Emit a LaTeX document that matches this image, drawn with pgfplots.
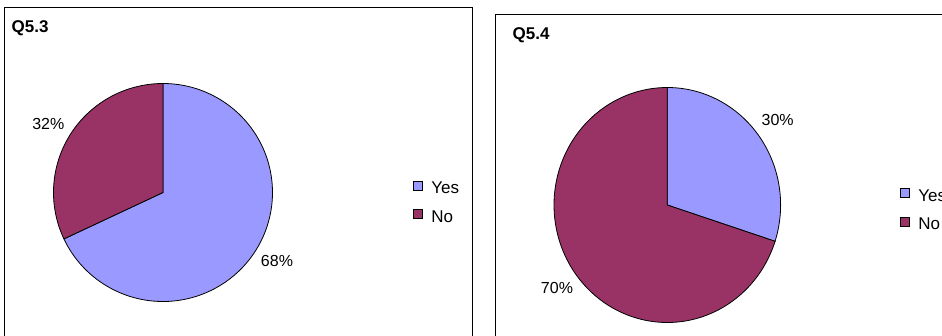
\documentclass[border=0pt]{standalone}
\usepackage{pgfplots}
\pgfplotsset{compat=1.18}
\usepackage{fontspec}
\setmainfont{Liberation Sans}
\definecolor{yescol}{HTML}{9999FF}
\definecolor{nocol}{HTML}{993366}

% data (percent)
\def\leftYes{68}\def\leftNo{32}
\def\rightYes{30}\def\rightNo{70}

\pgfplotsset{
  panel/.style={
    scale only axis, axis lines=box, xtick=\empty, ytick=\empty,
    y dir=reverse, axis line style={line width=1pt, black},
    legend image code/.code={\draw[##1,line width=0.7pt] (0pt,-0.5pt) rectangle (9pt,8.5pt);},
    legend style={draw=none, fill=none, inner sep=0pt, anchor=north west,
      font=\fontsize{17}{20}\selectfont,
      nodes={inner sep=0pt, text height=12pt, text depth=3pt},
      row sep=12.5pt,
      /tikz/every odd column/.style={column sep=8.5pt}},
    legend cell align=left,
  },
  wedge/.style={draw=black, line width=0.8pt, samples=160, variable=\t},
}

\begin{document}
\begin{tikzpicture}
\path[use as bounding box] (0pt,0pt) rectangle (942pt,335pt);
\clip (0pt,0pt) rectangle (942pt,335pt);
\pgfmathsetmacro{\La}{90-3.6*\leftYes}
\pgfmathsetmacro{\Ra}{90-3.6*\rightYes}

% ---- left panel: Q5.3
\begin{axis}[panel, anchor=north west, at={(5pt,328pt)},
  width=467pt, height=338pt, xmin=5, xmax=472, ymin=7, ymax=345,
  legend style={at={(axis cs:413,180.3)}}]
\addplot[wedge, fill=yescol, domain=\La:90] ({163+109.5*cos(\t)},{192.5-109*sin(\t)}) -- (axis cs:163,192.5) -- cycle;
\addlegendentry{Yes}
\addplot[wedge, fill=nocol, domain=-270:\La] ({163+109.5*cos(\t)},{192.5-109*sin(\t)}) -- (axis cs:163,192.5) -- cycle;
\addlegendentry{No}
\node[anchor=base west, font=\fontsize{17}{20}\selectfont\bfseries, inner sep=0pt] at (axis cs:11.5,32.5) {Q5.3};
\node[anchor=base, font=\fontsize{16}{19}\selectfont, inner sep=0pt] at (axis cs:277,266.7) {68\%};
\node[anchor=base, font=\fontsize{16}{19}\selectfont, inner sep=0pt] at (axis cs:48.3,129) {32\%};
\end{axis}

% ---- right panel: Q5.4
\begin{axis}[panel, anchor=north west, at={(495pt,321pt)},
  width=465pt, height=331pt, xmin=495, xmax=960, ymin=14, ymax=345,
  legend style={at={(axis cs:900,187.5)}}]
\addplot[wedge, fill=yescol, domain=\Ra:90] ({667.3+113.3*cos(\t)},{205-117.5*sin(\t)}) -- (axis cs:667.3,205) -- cycle;
\addlegendentry{Yes}
\addplot[wedge, fill=nocol, domain=-270:\Ra] ({667.3+113.3*cos(\t)},{205-117.5*sin(\t)}) -- (axis cs:667.3,205) -- cycle;
\addlegendentry{No}
\node[anchor=base west, font=\fontsize{17}{20}\selectfont\bfseries, inner sep=0pt] at (axis cs:512.5,39.3) {Q5.4};
\node[anchor=base, font=\fontsize{16}{19}\selectfont, inner sep=0pt] at (axis cs:777.7,125.7) {30\%};
\node[anchor=base, font=\fontsize{16}{19}\selectfont, inner sep=0pt] at (axis cs:557,293.3) {70\%};
\end{axis}
\end{tikzpicture}
\end{document}
